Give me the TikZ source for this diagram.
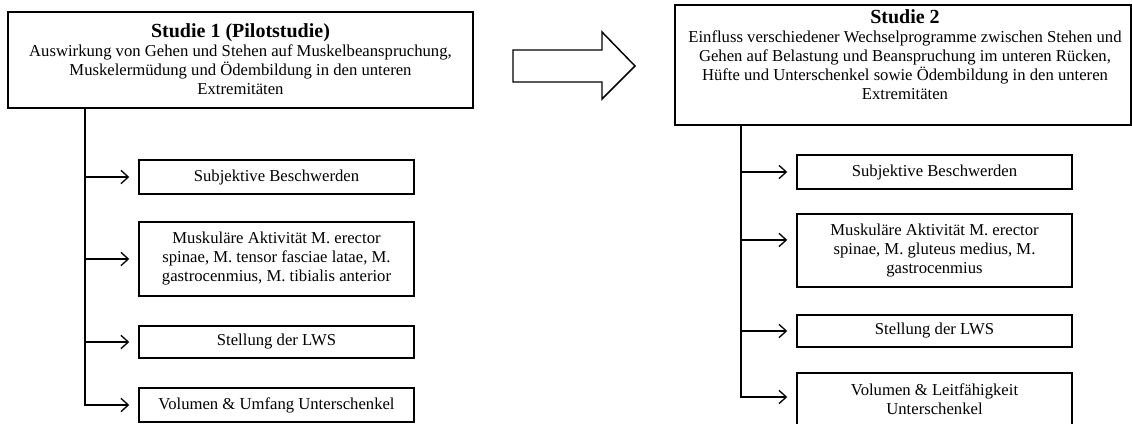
\documentclass[tikz,border=0pt]{standalone}
\usepackage{fontspec}
\setmainfont{Liberation Serif}
\usetikzlibrary{arrows.meta}

\newcommand{\studytitle}[1]{{\fontsize{15}{16}\selectfont\bfseries #1}}

\begin{document}
\begin{tikzpicture}[x=0.75pt, y=-0.75pt,
        studybox/.style={draw, line width=1.1pt, inner sep=0pt},
        studytext/.style={align=center, inner sep=0pt, font=\fontsize{12.5}{14.25}\selectfont},
        item/.style={draw, line width=1.1pt, minimum width=206.25pt, align=center, font=\fontsize{12.5}{14.25}\selectfont},
        conn/.style={line width=1pt, -{Straight Barb[length=5.5pt, width=10pt]}, shorten >=6.75pt}]
        \useasboundingbox (0,0) rectangle (1132,424);

        % Studie 1
        \node[studybox, minimum width=348.75pt, minimum height=72pt] (s1) at (240.5, 60) {};
        \node[studytext] (s1text) at (240.5, 59) {\studytitle{Studie 1 (Pilotstudie)}\\
                Auswirkung von Gehen und Stehen auf Muskelbeanspruchung,\\
                Muskelermüdung und Ödembildung in den unteren\\ Extremitäten};

        \node[item, minimum height=25.5pt] (a1) at (276.5, 177) {Subjektive Beschwerden};
        \node[item, minimum height=55.5pt] (a2) at (276.5, 259) {Muskuläre Aktivität M. erector\\
                spinae, M. tensor fasciae latae, M.\\ gastrocenmius, M. tibialis anterior};
        \node[item, minimum height=24pt] (a3) at (276.5, 342) {Stellung der LWS};
        \node[item, minimum height=25.5pt] (a4) at (276.5, 405) {Volumen \& Umfang Unterschenkel};

        \coordinate (ltrunk) at (85, 108);
        \draw[conn] (s1.south -| ltrunk) |- (a4.west);
        \draw[conn] (a1.west -| ltrunk) -- (a1.west);
        \draw[conn] (a2.west -| ltrunk) -- (a2.west);
        \draw[conn] (a3.west -| ltrunk) -- (a3.west);

        % Pfeil
        \draw[line width=1.1pt, line join=miter] (513,50) -- (602,50) -- (602,32) -- (635,66)
                -- (602,99) -- (602,82) -- (513,82) -- cycle;

        % Studie 2
        \node[studybox, minimum width=342pt, minimum height=90pt] (s2) at (903, 65) {};
        \node[studytext] (s2text) at (905, 55) {\studytitle{Studie 2}\\
                Einfluss verschiedener Wechselprogramme zwischen Stehen und\\
                Gehen auf Belastung und Beanspruchung im unteren Rücken,\\
                Hüfte und Unterschenkel sowie Ödembildung in den unteren\\ Extremitäten};

        \node[item, minimum height=25.5pt] (b1) at (934.5, 172) {Subjektive Beschwerden};
        \node[item, minimum height=54.75pt] (b2) at (934.5, 250.5) {Muskuläre Aktivität M. erector\\
                spinae, M. gluteus medius, M.\\ gastrocenmius};
        \node[item, minimum height=24pt] (b3) at (934.5, 331) {Stellung der LWS};
        \node[item, minimum height=39pt] (b4) at (934.5, 399) {Volumen \& Leitfähigkeit\\ Unterschenkel};

        \coordinate (rtrunk) at (741, 125);
        \draw[conn] (s2.south -| rtrunk) |- ([yshift=1.5pt]b4.west);
        \draw[conn] (b1.west -| rtrunk) -- (b1.west);
        \draw[conn] ([yshift=7.9pt]b2.west -| rtrunk) -- ([yshift=7.9pt]b2.west);
        \draw[conn] (b3.west -| rtrunk) -- (b3.west);
\end{tikzpicture}
\end{document}
